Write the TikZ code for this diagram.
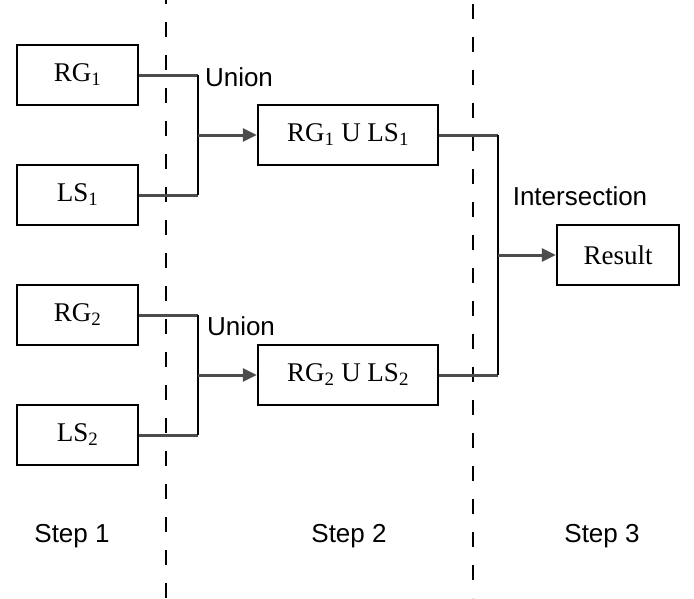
\documentclass[tikz,border=0pt]{standalone}
\usepackage{fontspec}
\setmainfont{Liberation Serif}
\newfontfamily\labfont{Liberation Sans}
\usetikzlibrary{arrows.meta}
\begin{document}
\begin{tikzpicture}[x=1pt,y=-1pt,
  box/.style={draw=black,line width=2.5pt,fill=white,inner sep=0pt,minimum height=60pt,
    font=\fontsize{27}{31}\selectfont},
  smallbox/.style={box,minimum width=121pt},
  midbox/.style={box,minimum width=180pt},
  conn/.style={draw=black!70,line width=3pt},
  joinline/.style={draw=black,line width=2.5pt},
  arr/.style={conn,-{Triangle[length=14pt,width=13pt]}},
  lab/.style={font=\labfont\fontsize{26}{30}\selectfont,inner sep=0pt},
  divider/.style={draw=black,line width=2.5pt,dash pattern=on 15pt off 18pt}]
\fill[white] (0,0) rectangle (694,598);
\useasboundingbox (0,0) rectangle (694,598);

% dividers
\coordinate (d1t) at (166,0); \coordinate (d1b) at (166,598);
\coordinate (d2t) at (473,4); \coordinate (d2b) at (473,598);
\draw[divider,dash phase=11pt] (d1t) -- (d1b);
\draw[divider] (d2t) -- (d2b);

% step 1 boxes
\node[smallbox] (RG1) at (77.5,75) {RG\textsubscript{1}};
\node[smallbox] (LS1) at (77.5,195) {LS\textsubscript{1}};
\node[smallbox] (RG2) at (77.5,315) {RG\textsubscript{2}};
\node[smallbox] (LS2) at (77.5,435) {LS\textsubscript{2}};

% step 2 boxes
\node[midbox] (M1) at (348,135) {RG\textsubscript{1} U LS\textsubscript{1}};
\node[midbox] (M2) at (348,375) {RG\textsubscript{2} U LS\textsubscript{2}};

% step 3 box
\node[box,minimum width=122pt] (R) at (618,255) {Result};

% joins
\coordinate (j1) at (198,135);
\coordinate (j2) at (198,375);
\coordinate (j3) at (498,255);

\draw[conn] (RG1.east) -- (RG1.east -| j1);
\draw[conn] (LS1.east) -- (LS1.east -| j1);
\draw[joinline] (RG1.east -| j1) -- (LS1.east -| j1);
\draw[arr] (j1) -- (M1.west);

\draw[conn] (RG2.east) -- (RG2.east -| j2);
\draw[conn] (LS2.east) -- (LS2.east -| j2);
\draw[joinline] (RG2.east -| j2) -- (LS2.east -| j2);
\draw[arr] (j2) -- (M2.west);

\draw[conn] (M1.east) -- (M1.east -| j3);
\draw[conn] (M2.east) -- (M2.east -| j3);
\draw[joinline] (M1.east -| j3) -- (M2.east -| j3);
\draw[arr] (j3) -- (R.west);

% labels
\node[lab] (u1) at (239,77) {Union};
\node[lab] (u2) at (241,326) {Union};
\node[lab] (is) at (580,196) {Intersection};
\node[lab] (s1) at (72,536) {Step 1};
\node[lab] (s2) at (349,536) {Step 2};
\node[lab] (s3) at (602,536) {Step 3};
\end{tikzpicture}
\end{document}
